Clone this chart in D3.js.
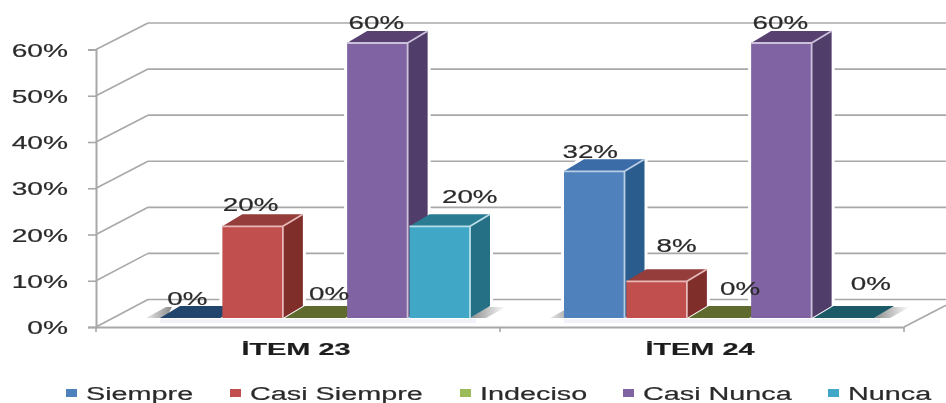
<!DOCTYPE html>
<html><head><meta charset="utf-8">
<script src="https://d3js.org/d3.v7.min.js"></script>
<style>html,body{margin:0;background:#fff}svg{display:block}text{font-family:"Liberation Sans",Arial,sans-serif;fill:#2b2b2b;stroke:#2b2b2b;stroke-width:0.2}</style>
</head><body><div id="c"></div>
<script>
const categories=["İTEM 23","İTEM 24"];
const seriesNames=["Siempre","Casi Siempre","Indeciso","Casi Nunca","Nunca"];
const siempre=[0,0.32];
const casiSiempre=[0.20,0.08];
const indeciso=[0,0];
const casiNunca=[0.60,0.60];
const nunca=[0.20,0];
const seriesValues=[siempre,casiSiempre,indeciso,casiNunca,nunca];
const yTicks=[0,0.1,0.2,0.3,0.4,0.5,0.6];
const frontColors=["#4f81bd","#c0504d","#9bbb59","#8064a2","#40a8c6"];
const topColors=["#3a6ca8","#943c3a","#5f6b2f","#58416f","#2c7b92"];
const sideColors=["#2b5b8e","#7f2d2b","#4d5726","#513c69","#266f85"];
const edgeColors=["#b9cde5","#e6b9b8","#d7e4bc","#ccc1da","#b7dee8"];
const zeroTop=["#24446e","#943c3a","#5f6b2f","#58416f","#1f5a68"];
// hand-placed data-label offsets from the bar's top-front centre [series][category]
const labelDx=[[-3,-4],[-2,20],[14,21],[-1,-1],[30,27]];
const labelDy=[[-20,-20],[-22,-36],[-25,-30],[-21,-21],[-30,-35]];

const W=946,H=403,depthX=20,depthY=12,wallX=52,wallY=27;
const svg=d3.select("#c").append("svg").attr("width",W).attr("height",H);
const defs=svg.append("defs");
defs.append("filter").attr("id","soft").append("feGaussianBlur").attr("stdDeviation",0.55);
const fade=defs.append("linearGradient").attr("id","fadeR");
fade.append("stop").attr("offset","0%").attr("stop-color","#8a8a8a");
fade.append("stop").attr("offset","100%").attr("stop-color","#ffffff");
const fadeL=defs.append("linearGradient").attr("id","fadeL");
fadeL.append("stop").attr("offset","0%").attr("stop-color","#e8e8e8");
fadeL.append("stop").attr("offset","100%").attr("stop-color","#8a8a8a");
const root=svg.append("g").attr("filter","url(#soft)");

const x0=d3.scaleBand().domain(categories).range([96,904]);
const x1=d3.scaleBand().domain(seriesNames).range([64,374]).paddingInner(0.03).paddingOuter(0);
const yFront=d3.scaleLinear().domain([0,0.6]).range([327,49.5]);
const yBack=d3.scaleLinear().domain([0,0.6]).range([299.5,23]);
const yBar=d3.scaleLinear().domain([0,0.6]).range([318,43]);
const gridCol="#a8a8a8";

// back wall
root.append("g").selectAll("line").data(yTicks).join("line")
 .attr("x1",96+wallX).attr("x2",W).attr("y1",d=>yBack(d)).attr("y2",d=>yBack(d))
 .attr("stroke",gridCol).attr("stroke-width",1.6);
// side wall diagonals
root.append("g").selectAll("line").data(yTicks).join("line")
 .attr("x1",96).attr("x2",96+wallX).attr("y1",d=>yFront(d)).attr("y2",d=>yBack(d))
 .attr("stroke",gridCol).attr("stroke-width",1.6);
root.append("line").attr("x1",904).attr("y1",yFront(0)).attr("x2",W).attr("y2",yFront(0)-wallY*42/52)
 .attr("stroke",gridCol).attr("stroke-width",1.6);

// axes
const axisL=d3.axisLeft(yFront).tickValues(yTicks).tickFormat(d3.format(".0%")).tickSize(8).tickPadding(0);
const gL=root.append("g").attr("transform","translate(96,0)").call(axisL);
gL.select(".domain").attr("stroke",gridCol).attr("stroke-width",2);
gL.selectAll(".tick line").attr("stroke",gridCol).attr("stroke-width",1.6);
gL.selectAll("text").attr("x",0).attr("dy",0).attr("y",6.5).attr("text-anchor","end")
 .attr("font-size",18.5).attr("transform","translate(-28,0) scale(1.52,1)").style("fill","#2b2b2b");

const axisB=d3.axisBottom(x0).tickSize(0).tickPadding(0);
const gB=root.append("g").attr("transform","translate(0,"+yFront(0)+")").call(axisB);
gB.select(".domain").attr("stroke",gridCol).attr("stroke-width",2);
gB.selectAll("text").attr("y",0).attr("dy",0).attr("font-size",17).attr("font-weight","bold")
 .attr("transform","translate(-2,28) scale(1.7,1)").style("fill","#1c1c1c");
root.append("g").selectAll("line").data([...categories.map(c=>x0(c)),x0.range()[1]]).join("line")
 .attr("x1",d=>d).attr("x2",d=>d).attr("y1",yFront(0)).attr("y2",yFront(0)+5)
 .attr("stroke",gridCol).attr("stroke-width",1.6);

// white halos behind bars (break the gridlines)
const halos=root.append("g");
// floor shadow
const shadow=root.append("g");
// pale floor reflection
root.append("g").selectAll("rect").data(categories).join("rect")
 .attr("x",c=>x0(c)+x1(seriesNames[0])).attr("width",x1.range()[1]-x1.range()[0]+6)
 .attr("y",yBar(0)+1).attr("height",4).attr("fill","#f1f3f8");
categories.forEach(c=>{
  const l=x0(c)+x1(seriesNames[0]),r=x0(c)+x1(seriesNames[4])+x1.bandwidth();
  const y=yBar(0);
  shadow.append("polygon").attr("points",[[l-14,y],[l+6,y-11],[l+12,y-11],[l+6,y]].join(" ")).attr("fill","url(#fadeL)");
  shadow.append("polygon").attr("points",[[r,y],[r+18,y-11],[r+36,y-11],[r+16,y]].join(" ")).attr("fill","url(#fadeR)");
});

// bars
const pts=a=>a.map(p=>p.join(",")).join(" ");
categories.forEach((c,ci)=>{
  seriesNames.forEach((s,si)=>{
    const v=seriesValues[si][ci];
    const xL=x0(c)+x1(s),xR=xL+x1.bandwidth(),yT=yBar(v),yB=yBar(0);
    const g=root.append("g");
    if(v>0){
      halos.append("polygon").attr("points",pts([[xL,yB],[xL,yT],[xL+depthX,yT-depthY],[xR+depthX,yT-depthY],[xR+depthX,yB-depthY],[xR,yB]]))
       .attr("fill","#fff").attr("stroke","#fff").attr("stroke-width",6);
      g.append("polygon").attr("points",pts([[xR,yT],[xR+depthX,yT-depthY],[xR+depthX,yB-depthY],[xR,yB]])).attr("fill",sideColors[si]);
      g.append("polygon").attr("points",pts([[xL,yT],[xR,yT],[xR+depthX,yT-depthY],[xL+depthX,yT-depthY]])).attr("fill",topColors[si]);
      g.append("rect").attr("x",xL).attr("y",yT).attr("width",xR-xL).attr("height",yB-yT).attr("fill",frontColors[si]);
      g.append("path").attr("d",`M${xL},${yT}L${xR},${yT}L${xR},${yB}M${xR},${yT}L${xR+depthX},${yT-depthY}`)
       .attr("fill","none").attr("stroke",edgeColors[si]).attr("stroke-width",1.8);
    }else{
      g.append("polygon").attr("points",pts([[xL,yB],[xR,yB],[xR+depthX,yB-depthY],[xL+depthX,yB-depthY]])).attr("fill",zeroTop[si]);
    }
  });
});

// data labels
categories.forEach((c,ci)=>{
  seriesNames.forEach((s,si)=>{
    const v=seriesValues[si][ci];
    const cx=x0(c)+x1(s)+x1.bandwidth()/2+labelDx[si][ci];
    const cy=yBar(v)+labelDy[si][ci];
    root.append("text").attr("text-anchor","middle").attr("font-size",18.5)
     .attr("transform",`translate(${cx},${cy+6.5}) scale(1.5,1)`)
     .text(d3.format(".0%")(v));
  });
});

// legend
const legendStarts=[66,230,460,623,828];
const leg=root.append("g").selectAll("g").data(seriesNames).join("g")
 .attr("transform",(d,i)=>`translate(${legendStarts[i]},393)`);
leg.append("rect").attr("x",0).attr("y",-4).attr("width",11).attr("height",8).attr("fill",(d,i)=>frontColors[i]);
leg.append("text").attr("font-size",18).attr("transform","translate(20,6.5) scale(1.6,1)").text(d=>d);
</script></body></html>
